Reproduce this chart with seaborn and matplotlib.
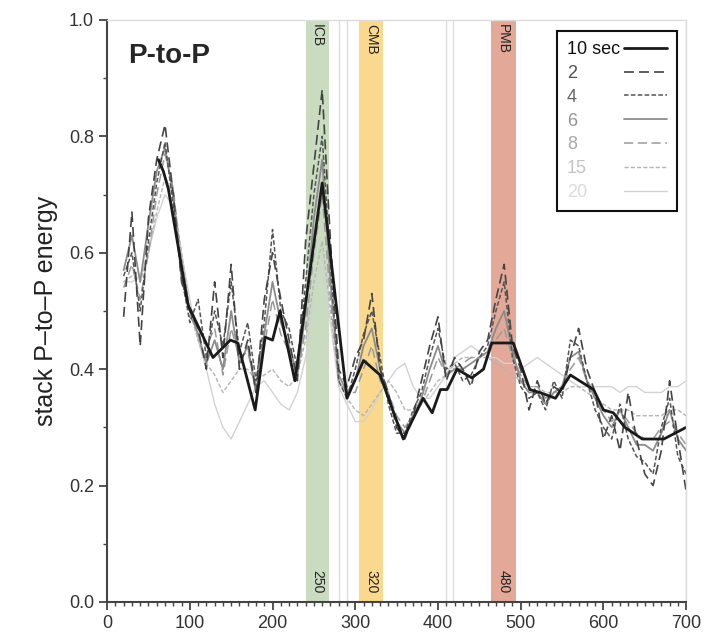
import matplotlib
matplotlib.use("Agg")
import numpy as np
import matplotlib.pyplot as plt
import seaborn as sns
from matplotlib.ticker import MultipleLocator

# --- data ---
dist = list(range(20, 701, 10))

x_10 = [62, 68, 74, 98, 128, 149, 158, 179, 191, 200, 209, 227, 260, 290, 310, 330,
        358, 382, 393, 403, 411, 423, 441, 455, 465, 491, 511, 523, 542, 560, 588,
        600, 612, 626, 647, 673, 700]
y_10 = [0.76, 0.74, 0.71, 0.51, 0.42, 0.45, 0.445, 0.33, 0.455, 0.45, 0.50, 0.38,
        0.72, 0.35, 0.415, 0.39, 0.28, 0.35, 0.325, 0.365, 0.365, 0.40, 0.385, 0.40,
        0.445, 0.445, 0.365, 0.36, 0.35, 0.39, 0.365, 0.33, 0.325, 0.30, 0.28, 0.28, 0.30]

y_2 = [0.49, 0.67, 0.44, 0.66, 0.76, 0.82, 0.70, 0.55, 0.50, 0.47, 0.40, 0.55, 0.42,
       0.58, 0.40, 0.45, 0.36, 0.52, 0.60, 0.52, 0.45, 0.38, 0.62, 0.75, 0.88, 0.62,
       0.40, 0.37, 0.42, 0.45, 0.53, 0.40, 0.36, 0.30, 0.28, 0.32, 0.38, 0.44, 0.49,
       0.38, 0.42, 0.40, 0.37, 0.43, 0.45, 0.52, 0.58, 0.44, 0.40, 0.33, 0.38, 0.34,
       0.37, 0.36, 0.42, 0.47, 0.40, 0.36, 0.28, 0.32, 0.26, 0.36, 0.28, 0.22, 0.20,
       0.26, 0.38, 0.28, 0.19]
y_4 = [0.56, 0.60, 0.50, 0.62, 0.72, 0.79, 0.68, 0.56, 0.48, 0.52, 0.42, 0.50, 0.44,
       0.55, 0.43, 0.48, 0.38, 0.48, 0.64, 0.50, 0.47, 0.40, 0.55, 0.70, 0.80, 0.58,
       0.38, 0.35, 0.40, 0.46, 0.50, 0.42, 0.34, 0.29, 0.29, 0.33, 0.36, 0.42, 0.47,
       0.40, 0.41, 0.38, 0.39, 0.42, 0.44, 0.50, 0.55, 0.42, 0.37, 0.35, 0.36, 0.33,
       0.38, 0.35, 0.45, 0.44, 0.38, 0.33, 0.30, 0.28, 0.34, 0.28, 0.25, 0.24, 0.22,
       0.30, 0.35, 0.25, 0.22]
y_6 = [0.57, 0.63, 0.55, 0.65, 0.74, 0.78, 0.70, 0.56, 0.50, 0.46, 0.41, 0.45, 0.40,
       0.50, 0.41, 0.44, 0.36, 0.46, 0.55, 0.48, 0.44, 0.39, 0.50, 0.66, 0.76, 0.55,
       0.39, 0.36, 0.38, 0.44, 0.47, 0.40, 0.35, 0.31, 0.29, 0.32, 0.35, 0.40, 0.44,
       0.39, 0.40, 0.40, 0.41, 0.42, 0.43, 0.47, 0.50, 0.43, 0.38, 0.36, 0.36, 0.34,
       0.36, 0.37, 0.42, 0.43, 0.38, 0.35, 0.32, 0.30, 0.33, 0.30, 0.27, 0.27, 0.26,
       0.29, 0.33, 0.28, 0.26]
y_8 = [0.54, 0.58, 0.52, 0.60, 0.70, 0.77, 0.71, 0.58, 0.49, 0.47, 0.44, 0.47, 0.39,
       0.47, 0.42, 0.43, 0.37, 0.44, 0.52, 0.46, 0.43, 0.39, 0.47, 0.60, 0.70, 0.52,
       0.38, 0.36, 0.36, 0.40, 0.44, 0.38, 0.36, 0.32, 0.30, 0.32, 0.34, 0.38, 0.42,
       0.39, 0.40, 0.41, 0.42, 0.42, 0.43, 0.45, 0.47, 0.42, 0.39, 0.37, 0.37, 0.35,
       0.36, 0.37, 0.40, 0.42, 0.38, 0.36, 0.33, 0.31, 0.33, 0.31, 0.29, 0.28, 0.28,
       0.30, 0.31, 0.29, 0.27]
y_15 = [0.55, 0.56, 0.55, 0.60, 0.67, 0.73, 0.70, 0.60, 0.50, 0.45, 0.41, 0.39, 0.36,
        0.38, 0.40, 0.40, 0.38, 0.39, 0.40, 0.38, 0.37, 0.39, 0.45, 0.55, 0.62, 0.50,
        0.38, 0.35, 0.33, 0.32, 0.34, 0.36, 0.38, 0.36, 0.33, 0.33, 0.34, 0.36, 0.38,
        0.39, 0.41, 0.42, 0.42, 0.42, 0.42, 0.41, 0.40, 0.39, 0.38, 0.37, 0.37, 0.36,
        0.36, 0.36, 0.37, 0.37, 0.36, 0.35, 0.34, 0.33, 0.33, 0.33, 0.32, 0.32, 0.32,
        0.32, 0.33, 0.33, 0.32]
y_20 = [0.55, 0.55, 0.56, 0.60, 0.66, 0.70, 0.68, 0.60, 0.52, 0.45, 0.40, 0.34, 0.30,
        0.28, 0.31, 0.34, 0.37, 0.38, 0.36, 0.34, 0.33, 0.36, 0.42, 0.52, 0.59, 0.48,
        0.37, 0.34, 0.31, 0.31, 0.33, 0.36, 0.38, 0.40, 0.41, 0.37, 0.35, 0.35, 0.37,
        0.39, 0.42, 0.43, 0.44, 0.43, 0.42, 0.42, 0.41, 0.41, 0.40, 0.41, 0.42, 0.41,
        0.40, 0.39, 0.38, 0.37, 0.37, 0.37, 0.37, 0.37, 0.36, 0.37, 0.37, 0.36, 0.36,
        0.36, 0.37, 0.37, 0.38]

periods = ["2", "4", "6", "8", "15", "20"]
period_vals = [y_2, y_4, y_6, y_8, y_15, y_20]

boundaries = ["ICB", "CMB", "PMB"]
boundary_depth = ["250", "320", "480"]
boundary_span = [(240, 268), (305, 333), (464, 494)]
boundary_colors = ["#cadcbf", "#fad98f", "#e3a898"]
frame_lines = [280, 290, 410, 418, 700]

# --- style ---
sns.set_style("white")
plt.rcParams["font.family"] = ["Liberation Sans", "DejaVu Sans"]

styles = {
    "10 sec": dict(color="#1a1a1a", lw=2.0, ls="-", text="#111111"),
    "2": dict(color="#444444", lw=1.2, ls=(0, (6, 3)), text="#505050"),
    "4": dict(color="#555555", lw=1.1, ls=(0, (3, 1.5)), text="#666666"),
    "6": dict(color="#8c8c8c", lw=1.3, ls="-", text="#939393"),
    "8": dict(color="#9a9a9a", lw=1.1, ls=(0, (6, 3)), text="#a8a8a8"),
    "15": dict(color="#b5b5b5", lw=1.0, ls=(0, (3, 1.5)), text="#c4c4c4"),
    "20": dict(color="#d2d2d2", lw=1.0, ls="-", text="#dadada"),
}

fig, ax = plt.subplots(figsize=(7.14, 6.36), dpi=100)
fig.subplots_adjust(left=0.15, right=0.961, bottom=0.0535, top=0.9686)

# boundary bands and their labels
for name, depth, (x0, x1), c in zip(boundaries, boundary_depth, boundary_span, boundary_colors):
    ax.axvspan(x0, x1, color=c, lw=0, zorder=0)
    xc = (x0 + x1) / 2
    ax.text(xc, 0.993, name, rotation=-90, ha="center", va="top", fontsize=10, color="#222222")
    ax.text(xc, 0.015, depth, rotation=-90, ha="center", va="bottom", fontsize=10, color="#222222")

for xv in frame_lines:
    ax.axvline(xv, color="#dcdcdc", lw=1.0, zorder=0.5)

# period curves, lightest first
for lab, vals in reversed(list(zip(periods, period_vals))):
    st = styles[lab]
    sns.lineplot(x=dist, y=vals, ax=ax, color=st["color"], linewidth=st["lw"],
                 linestyle=st["ls"], label=lab, legend=False)
st = styles["10 sec"]
sns.lineplot(x=x_10, y=y_10, ax=ax, color=st["color"], linewidth=st["lw"],
             linestyle=st["ls"], label="10 sec", legend=False)

ax.set_xlim(0, 700)
ax.set_ylim(0, 1.0)
ax.xaxis.set_major_locator(MultipleLocator(100))
ax.xaxis.set_minor_locator(MultipleLocator(10))
ax.yaxis.set_major_locator(MultipleLocator(0.2))
ax.yaxis.set_minor_locator(MultipleLocator(0.1))
ax.yaxis.set_major_formatter(matplotlib.ticker.FormatStrFormatter("%.1f"))
ax.tick_params(which="major", direction="out", length=6, width=1.3, colors="#444444",
               labelsize=13, labelcolor="#333333", left=True, bottom=True)
ax.tick_params(which="minor", direction="out", length=3, width=1.0, colors="#444444",
               left=True, bottom=True)

for side in ["left", "bottom"]:
    ax.spines[side].set_color("#444444")
    ax.spines[side].set_linewidth(1.5)
for side in ["top", "right"]:
    ax.spines[side].set_color("#dcdcdc")
    ax.spines[side].set_linewidth(1.0)

ax.set_ylabel("stack P\u2013to\u2013P energy", fontsize=18, color="#222222", labelpad=8)
ax.set_xlabel("")
ax.text(25, 0.926, "P-to-P", fontsize=20, fontweight="bold", ha="left", va="baseline")

# legend: labels left-aligned, line samples on the right
handles, labels = ax.get_legend_handles_labels()
order = ["10 sec"] + periods
hmap = dict(zip(labels, handles))
leg = ax.legend([hmap[k] for k in order], order, loc="upper right",
                bbox_to_anchor=(0.984, 0.981), borderaxespad=0, markerfirst=False,
                fontsize=13, handlelength=2.4, labelspacing=0.38, borderpad=0.55,
                handletextpad=0.2, fancybox=False, framealpha=1.0)
leg.get_frame().set_edgecolor("#111111")
leg.get_frame().set_linewidth(1.5)
for txt, k in zip(leg.get_texts(), order):
    txt.set_color(styles[k]["text"])

fig.canvas.draw()
renderer = fig.canvas.get_renderer()
widths = [t.get_window_extent(renderer).width for t in leg.get_texts()]
rows = leg._legend_handle_box.get_children()[0].get_children()
for row, w in zip(rows, widths):
    row.sep = row.sep + (max(widths) - w) * 72.0 / fig.dpi

fig.savefig("out.png", dpi=100)
